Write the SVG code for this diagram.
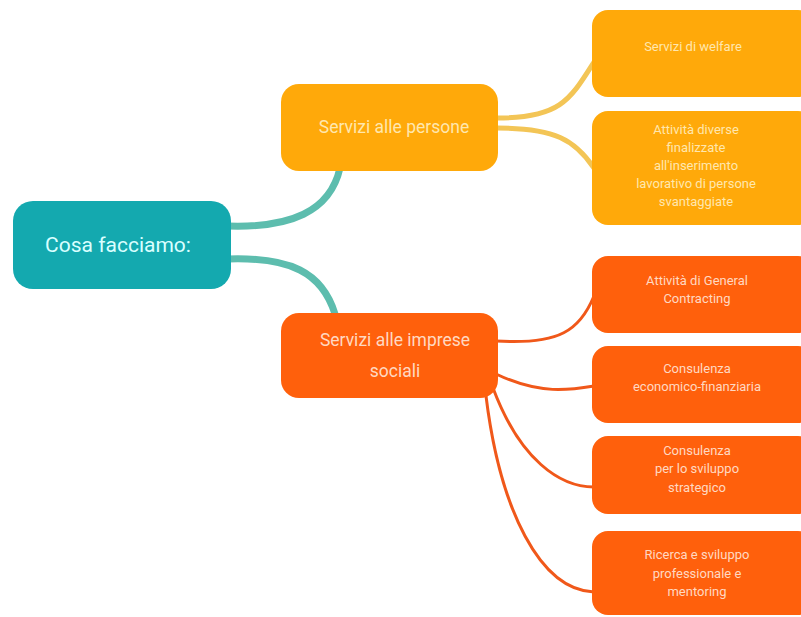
<svg xmlns="http://www.w3.org/2000/svg" width="801" height="617" viewBox="0 0 801 617">
<style>
.t{font-family:Roboto,"Liberation Sans",sans-serif;text-anchor:middle}
.s{font-size:13px}
.root rect{fill:#14A9AF}
.y rect{fill:#FFA90A}
.o rect{fill:#FF600C}
.yt{fill:#FFE7AE}
.ot{fill:#FFD9C2}
.c{fill:none;stroke-linecap:round}
.ct{stroke:#5DBDAE;stroke-width:7}
.cy{stroke:#F3C556;stroke-width:5}
.co{stroke:#F0581A;stroke-width:3}
</style>
<rect width="801" height="617" fill="#FFFFFF"/>
<g id="connectors">
<path class="c ct" d="M228 226 C290 228 330 212 340 168"/>
<path class="c ct" d="M228 259 C290 257 322 272 335 314"/>
<path class="c cy" d="M497 118 C560 118 570 100 594 62"/>
<path class="c cy" d="M497 128 C555 128 575 140 594 168"/>
<path class="c co" d="M496 341 C560 345 580 330 594 296"/>
<path class="c co" d="M496 374 C540 395 570 390 594 386"/>
<path class="c co" d="M493 388 C520 460 560 487 594 487"/>
<path class="c co" d="M486 396 C500 510 540 590 594 592"/>
</g>
<g id="root" class="root">
<rect x="13" y="201" width="218" height="88" rx="20"/>
<text class="t" x="118" y="252" font-size="21" fill="#D9FFFF">Cosa facciamo:</text>
</g>
<g id="persone" class="y">
<rect x="281" y="84" width="217" height="87" rx="18"/>
<text class="t yt" x="394" y="133" font-size="17.5">Servizi alle persone</text>
</g>
<g id="imprese" class="o">
<rect x="281" y="313" width="217" height="85" rx="18"/>
<text class="t ot" x="395" y="346" font-size="17.5">Servizi alle imprese</text>
<text class="t ot" x="395" y="377" font-size="17.5">sociali</text>
</g>
<g id="welfare" class="y">
<rect x="592" y="10" width="222" height="87" rx="16"/>
<text class="t yt s" x="693" y="51">Servizi di welfare</text>
</g>
<g id="attivita" class="y">
<rect x="592" y="111" width="222" height="114" rx="16"/>
<text class="t yt s" x="696" y="134">Attività diverse</text>
<text class="t yt s" x="696" y="152">finalizzate</text>
<text class="t yt s" x="696" y="170">all'inserimento</text>
<text class="t yt s" x="696" y="188">lavorativo di persone</text>
<text class="t yt s" x="696" y="206">svantaggiate</text>
</g>
<g id="general" class="o">
<rect x="592" y="256" width="222" height="77" rx="16"/>
<text class="t ot s" x="697" y="285">Attività di General</text>
<text class="t ot s" x="697" y="303">Contracting</text>
</g>
<g id="economico" class="o">
<rect x="592" y="346" width="222" height="77" rx="16"/>
<text class="t ot s" x="697" y="373">Consulenza</text>
<text class="t ot s" x="697" y="391">economico-finanziaria</text>
</g>
<g id="strategico" class="o">
<rect x="592" y="436" width="222" height="78" rx="16"/>
<text class="t ot s" x="697" y="455">Consulenza</text>
<text class="t ot s" x="697" y="473">per lo sviluppo</text>
<text class="t ot s" x="697" y="492">strategico</text>
</g>
<g id="ricerca" class="o">
<rect x="592" y="531" width="222" height="84" rx="16"/>
<text class="t ot s" x="697" y="559">Ricerca e sviluppo</text>
<text class="t ot s" x="697" y="578">professionale e</text>
<text class="t ot s" x="697" y="596">mentoring</text>
</g>
</svg>
